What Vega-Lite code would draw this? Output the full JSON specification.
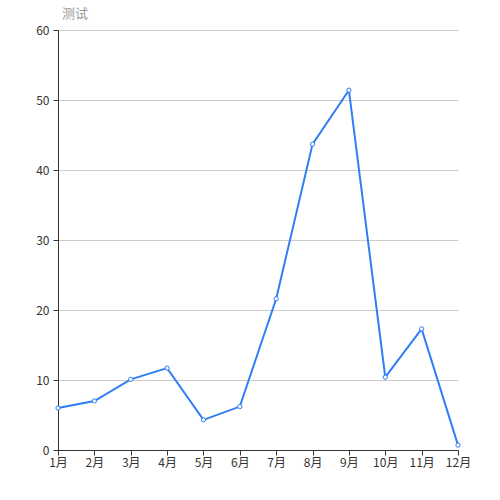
{
  "$schema": "https://vega.github.io/schema/vega-lite/v6.json",
  "width": 400,
  "height": 420,
  "autosize": "none",
  "padding": {"left": 58, "top": 30, "right": 42, "bottom": 50},
  "background": "white",
  "title": {"text": "测试", "anchor": "start", "frame": "group", "dx": 4, "offset": 3, "fontSize": 13, "fontWeight": "normal", "color": "#999999", "font": "Noto Sans CJK SC"},
  "config": {"view": {"stroke": null}},
  "data": {"values": [
    {"month": "1月", "value": 6.0},
    {"month": "2月", "value": 7.0},
    {"month": "3月", "value": 10.1},
    {"month": "4月", "value": 11.7},
    {"month": "5月", "value": 4.3},
    {"month": "6月", "value": 6.2},
    {"month": "7月", "value": 21.6},
    {"month": "8月", "value": 43.7},
    {"month": "9月", "value": 51.4},
    {"month": "10月", "value": 10.4},
    {"month": "11月", "value": 17.3},
    {"month": "12月", "value": 0.7}
  ]},
  "encoding": {
    "x": {"field": "month", "type": "ordinal", "sort": null, "scale": {"type": "point", "padding": 0},
      "axis": {"title": null, "labelAngle": 0, "domainColor": "#333333", "tickColor": "#333333", "tickSize": 5, "labelColor": "#333333", "labelFontSize": 12, "labelFont": "Noto Sans CJK SC", "labelPadding": 2, "grid": false}},
    "y": {"field": "value", "type": "quantitative", "scale": {"domain": [0, 60], "nice": false},
      "axis": {"title": null, "values": [0, 10, 20, 30, 40, 50, 60], "domainColor": "#333333", "tickColor": "#333333", "tickSize": 5, "labelColor": "#333333", "labelFontSize": 12, "labelFont": "Noto Sans CJK SC", "labelPadding": 4, "grid": true, "gridColor": "#cccccc"}}
  },
  "layer": [
    {"mark": {"type": "line", "color": "#2f7ef5", "strokeWidth": 2}},
    {"mark": {"type": "point", "filled": true, "fill": "white", "stroke": "#2f7ef5", "strokeWidth": 1, "size": 18, "opacity": 1}}
  ]
}
